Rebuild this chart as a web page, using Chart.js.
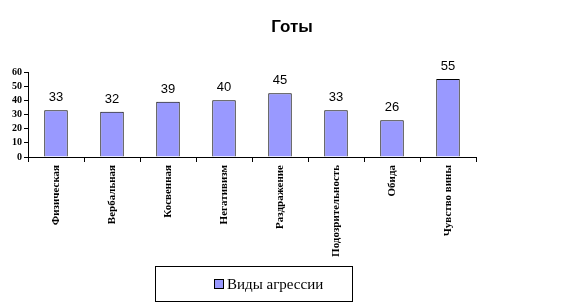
<!DOCTYPE html>
<html><head><meta charset="utf-8">
<script src="https://cdn.jsdelivr.net/npm/chart.js@4/dist/chart.umd.min.js"></script>
<style>html,body{margin:0;padding:0;background:#fff}#w{width:585px;height:307px}</style>
</head><body><div id="w"><canvas id="c" width="585" height="307"></canvas></div>
<script>
const chartTitle = "Готы";
const categories = ["Физическая","Вербальная","Косвенная","Негативизм","Раздражение","Подозрительность","Обида","Чувство вины"];
const seriesName = "Виды агрессии";
const values = [33,32,39,40,45,33,26,55];
const yTicks = [0,10,20,30,40,50,60];

const overlay = {
  id:'overlay',
  afterDatasetsDraw(chart){
    const ctx = chart.ctx;
    ctx.save();
    ctx.fillStyle='#000';
    ctx.font='bold 17px Arial, "Liberation Sans"';
    ctx.textAlign='center'; ctx.textBaseline='middle';
    ctx.fillText(chartTitle, 292, 27);
    ctx.font='13px Arial, "Liberation Sans"';
    ctx.textBaseline='alphabetic';
    const meta = chart.getDatasetMeta(0);
    meta.data.forEach((b,i)=>{
      ctx.fillText(String(values[i]), b.x, b.y - 9);
    });
    ctx.strokeStyle='#000'; ctx.lineWidth=1;
    ctx.strokeRect(155.5,266.5,197,35);
    ctx.fillStyle='#9999FF';
    ctx.fillRect(214.5,279.5,9,9);
    ctx.strokeRect(214.5,279.5,9,9);
    ctx.fillStyle='#000';
    ctx.font='15px "Times New Roman", "Liberation Serif", serif';
    ctx.textAlign='left'; ctx.textBaseline='middle';
    ctx.fillText(seriesName, 227, 285);
    ctx.restore();
  }
};

new Chart(document.getElementById('c'), {
  type:'bar',
  data:{labels:categories, datasets:[{label:seriesName, data:values, backgroundColor:'#9999FF', borderColor:'#000', borderWidth:1, barPercentage:0.42, categoryPercentage:1}]},
  options:{
    responsive:false, animation:false,
    layout:{padding:{top:72,right:109,left:0,bottom:0}},
    plugins:{legend:{display:false}, title:{display:false}, tooltip:{enabled:false}},
    scales:{
      y:{min:yTicks[0],max:yTicks[yTicks.length-1],
        afterFit(s){s.width=28;},
        afterBuildTicks(s){s.ticks=yTicks.map(v=>({value:v}));},
        grid:{drawOnChartArea:false, drawTicks:true, tickLength:4, color:'#000'},
        border:{color:'#000'},
        ticks:{color:'#000', autoSkip:false, stepSize:10, padding:2, font:{family:'"Times New Roman","Liberation Serif",serif', weight:'bold', size:10}}
      },
      x:{
        afterFit(s){s.height=150;},
        grid:{drawOnChartArea:false, drawTicks:true, tickLength:5, color:'#000', offset:true},
        border:{color:'#000'},
        ticks:{color:'#000', minRotation:90, maxRotation:90, autoSkip:false, padding:3, font:{family:'"Times New Roman","Liberation Serif",serif', weight:'bold', size:11}}
      }
    }
  },
  plugins:[overlay]
});
</script></body></html>
